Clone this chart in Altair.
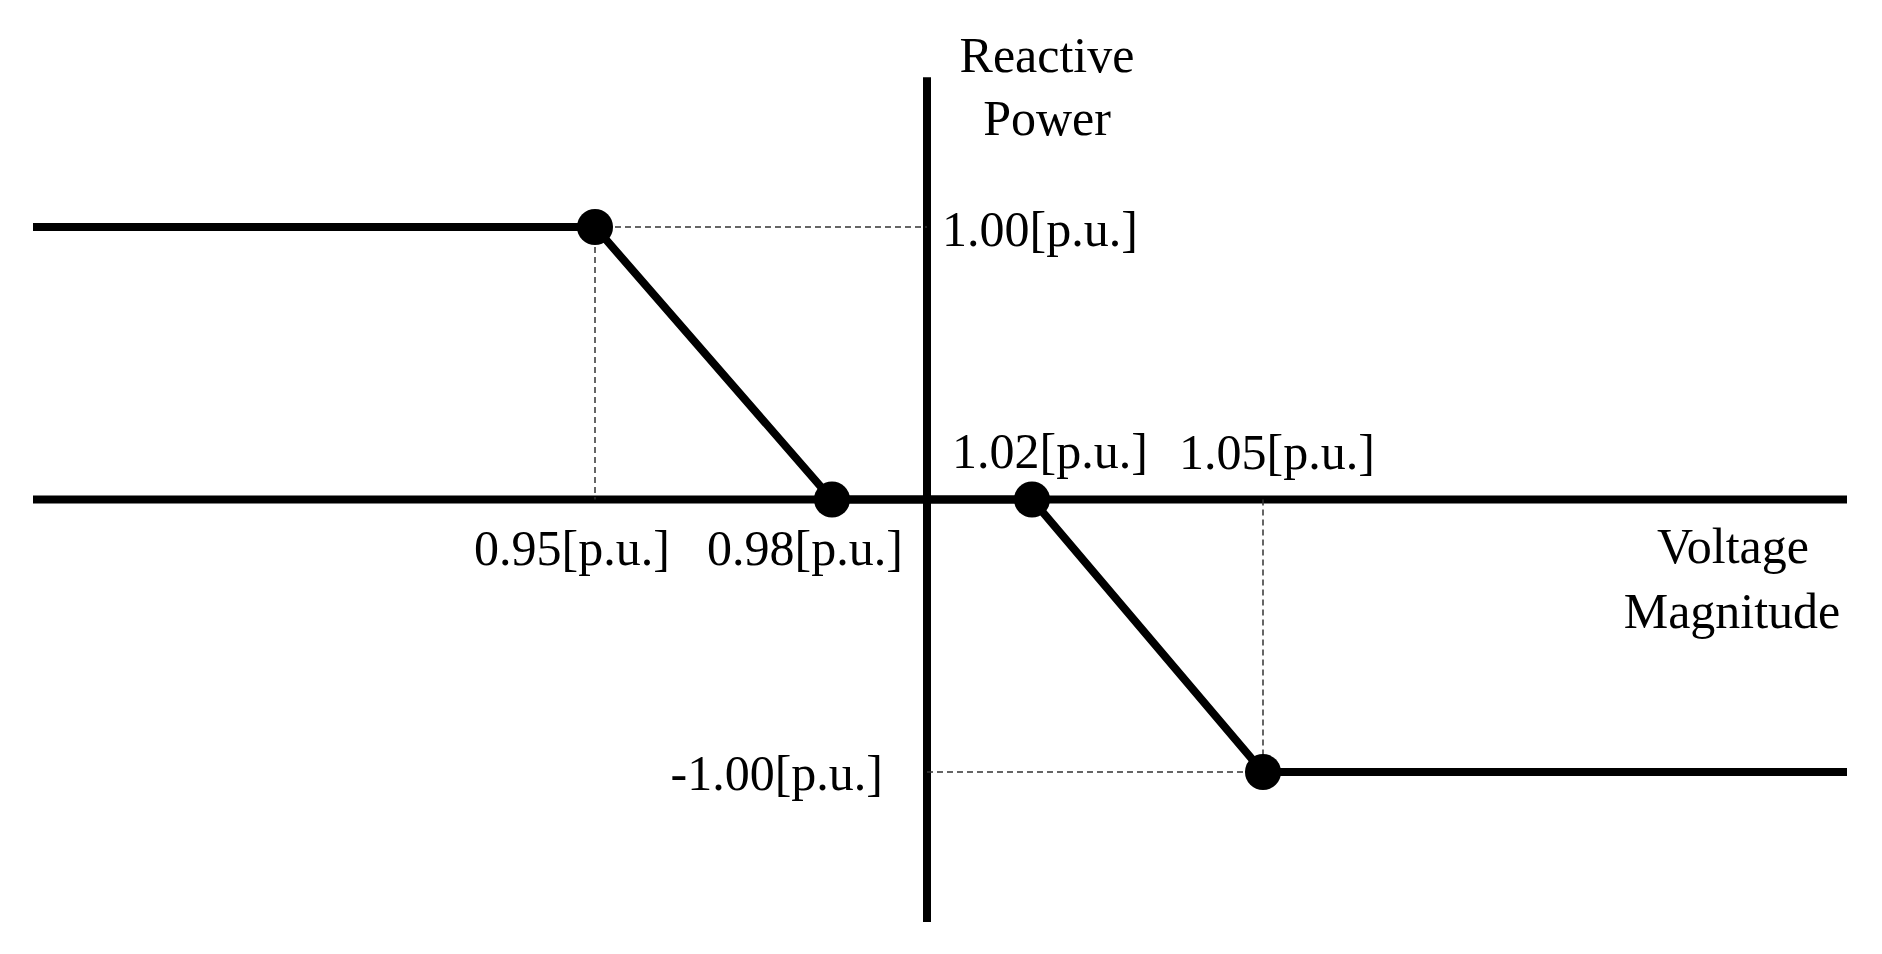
import altair as alt
import pandas as pd

# ---- data ----
# characteristic curve (voltage magnitude [p.u.] vs reactive power [p.u.])
curve_v = [0.90, 0.95, 0.98, 1.02, 1.05, 1.10]
curve_q = [1.0, 1.0, 0.0, 0.0, -1.0, -1.0]

# break points
point_v = [0.95, 0.98, 1.02, 1.05]
point_q = [1.0, 0.0, 0.0, -1.0]

# dashed guide segments
guide_v1 = [0.95, 0.95, 1.05, 1.00]
guide_v2 = [1.00, 0.95, 1.05, 1.05]
guide_q1 = [1.0, 1.0, 0.0, -1.0]
guide_q2 = [1.0, 0.0, -1.0, -1.0]

# axes
axis_v1 = [0.90, 1.00]
axis_v2 = [1.10, 1.00]
axis_q1 = [0.0, -1.55]
axis_q2 = [0.0, 1.55]

# text labels and their anchor points
label_text = ["1.00[p.u.]", "-1.00[p.u.]", "0.95[p.u.]", "0.98[p.u.]",
              "1.02[p.u.]", "1.05[p.u.]", "Reactive", "Power",
              "Voltage", "Magnitude"]
label_v = [1.00, 1.00, 0.95, 0.98, 1.02, 1.05, 1.00, 1.00, 1.10, 1.10]
label_q = [1.0, -1.0, 0.0, 0.0, 0.0, -0.0, 1.55, 1.55, 0.0, 0.0]

# ---- styles (offsets / alignment per label) ----
label_style = [
    dict(align="left", dx=15, dy=19),
    dict(align="right", dx=-44, dy=18),
    dict(align="center", dx=-23, dy=65),
    dict(align="center", dx=-27, dy=65),
    dict(align="center", dx=18, dy=-32),
    dict(align="center", dx=14, dy=-31),
    dict(align="center", dx=120, dy=-5),
    dict(align="center", dx=120, dy=58),
    dict(align="center", dx=-114, dy=63),
    dict(align="center", dx=-115, dy=128),
]

FONT = "Liberation Serif"
FS = 50

xscale = alt.Scale(domain=[0.90, 0.95, 0.98, 1.00, 1.02, 1.05, 1.10],
                   range=[25, 587, 824, 919, 1024, 1255, 1839],
                   nice=False, zero=False)
yscale = alt.Scale(domain=[-1.0, 1.0], range=[764, 219], nice=False, zero=False)

X = lambda f: alt.X(f, type="quantitative", scale=xscale, axis=None)
Y = lambda f: alt.Y(f, type="quantitative", scale=yscale, axis=None)

axes_df = pd.DataFrame(dict(v1=axis_v1, v2=axis_v2, q1=axis_q1, q2=axis_q2))
axes = alt.Chart(axes_df).mark_rule(color="black", strokeWidth=8).encode(
    x=X("v1"), x2="v2", y=Y("q1"), y2="q2")

guide_df = pd.DataFrame(dict(v1=guide_v1, v2=guide_v2, q1=guide_q1, q2=guide_q2))
guides = alt.Chart(guide_df).mark_rule(
    color="#333333", strokeWidth=1.5, strokeDash=[6, 4]).encode(
    x=X("v1"), x2="v2", y=Y("q1"), y2="q2")

curve_df = pd.DataFrame(dict(v=curve_v, q=curve_q))
curve = alt.Chart(curve_df).mark_line(color="black", strokeWidth=8).encode(
    x=X("v"), y=Y("q"))

pts_df = pd.DataFrame(dict(v=point_v, q=point_q))
pts = alt.Chart(pts_df).mark_point(
    filled=True, color="black", opacity=1, size=1300, shape="circle").encode(
    x=X("v"), y=Y("q"))

layers = [axes, guides, curve, pts]
for t, v, q, st in zip(label_text, label_v, label_q, label_style):
    df = pd.DataFrame(dict(v=[v], q=[q], label=[t]))
    layers.append(
        alt.Chart(df).mark_text(
            font=FONT, fontSize=FS, color="black", baseline="alphabetic",
            align=st["align"], dx=st["dx"], dy=st["dy"]).encode(
            x=X("v"), y=Y("q"), text="label:N"))

chart = alt.layer(*layers).properties(
    width=1866, height=938,
    autosize=alt.AutoSizeParams(type="none"),
    padding=0,
    background="white",
).configure_view(stroke=None)

chart.save("out.html", embed_options={"renderer": "svg", "actions": False})
